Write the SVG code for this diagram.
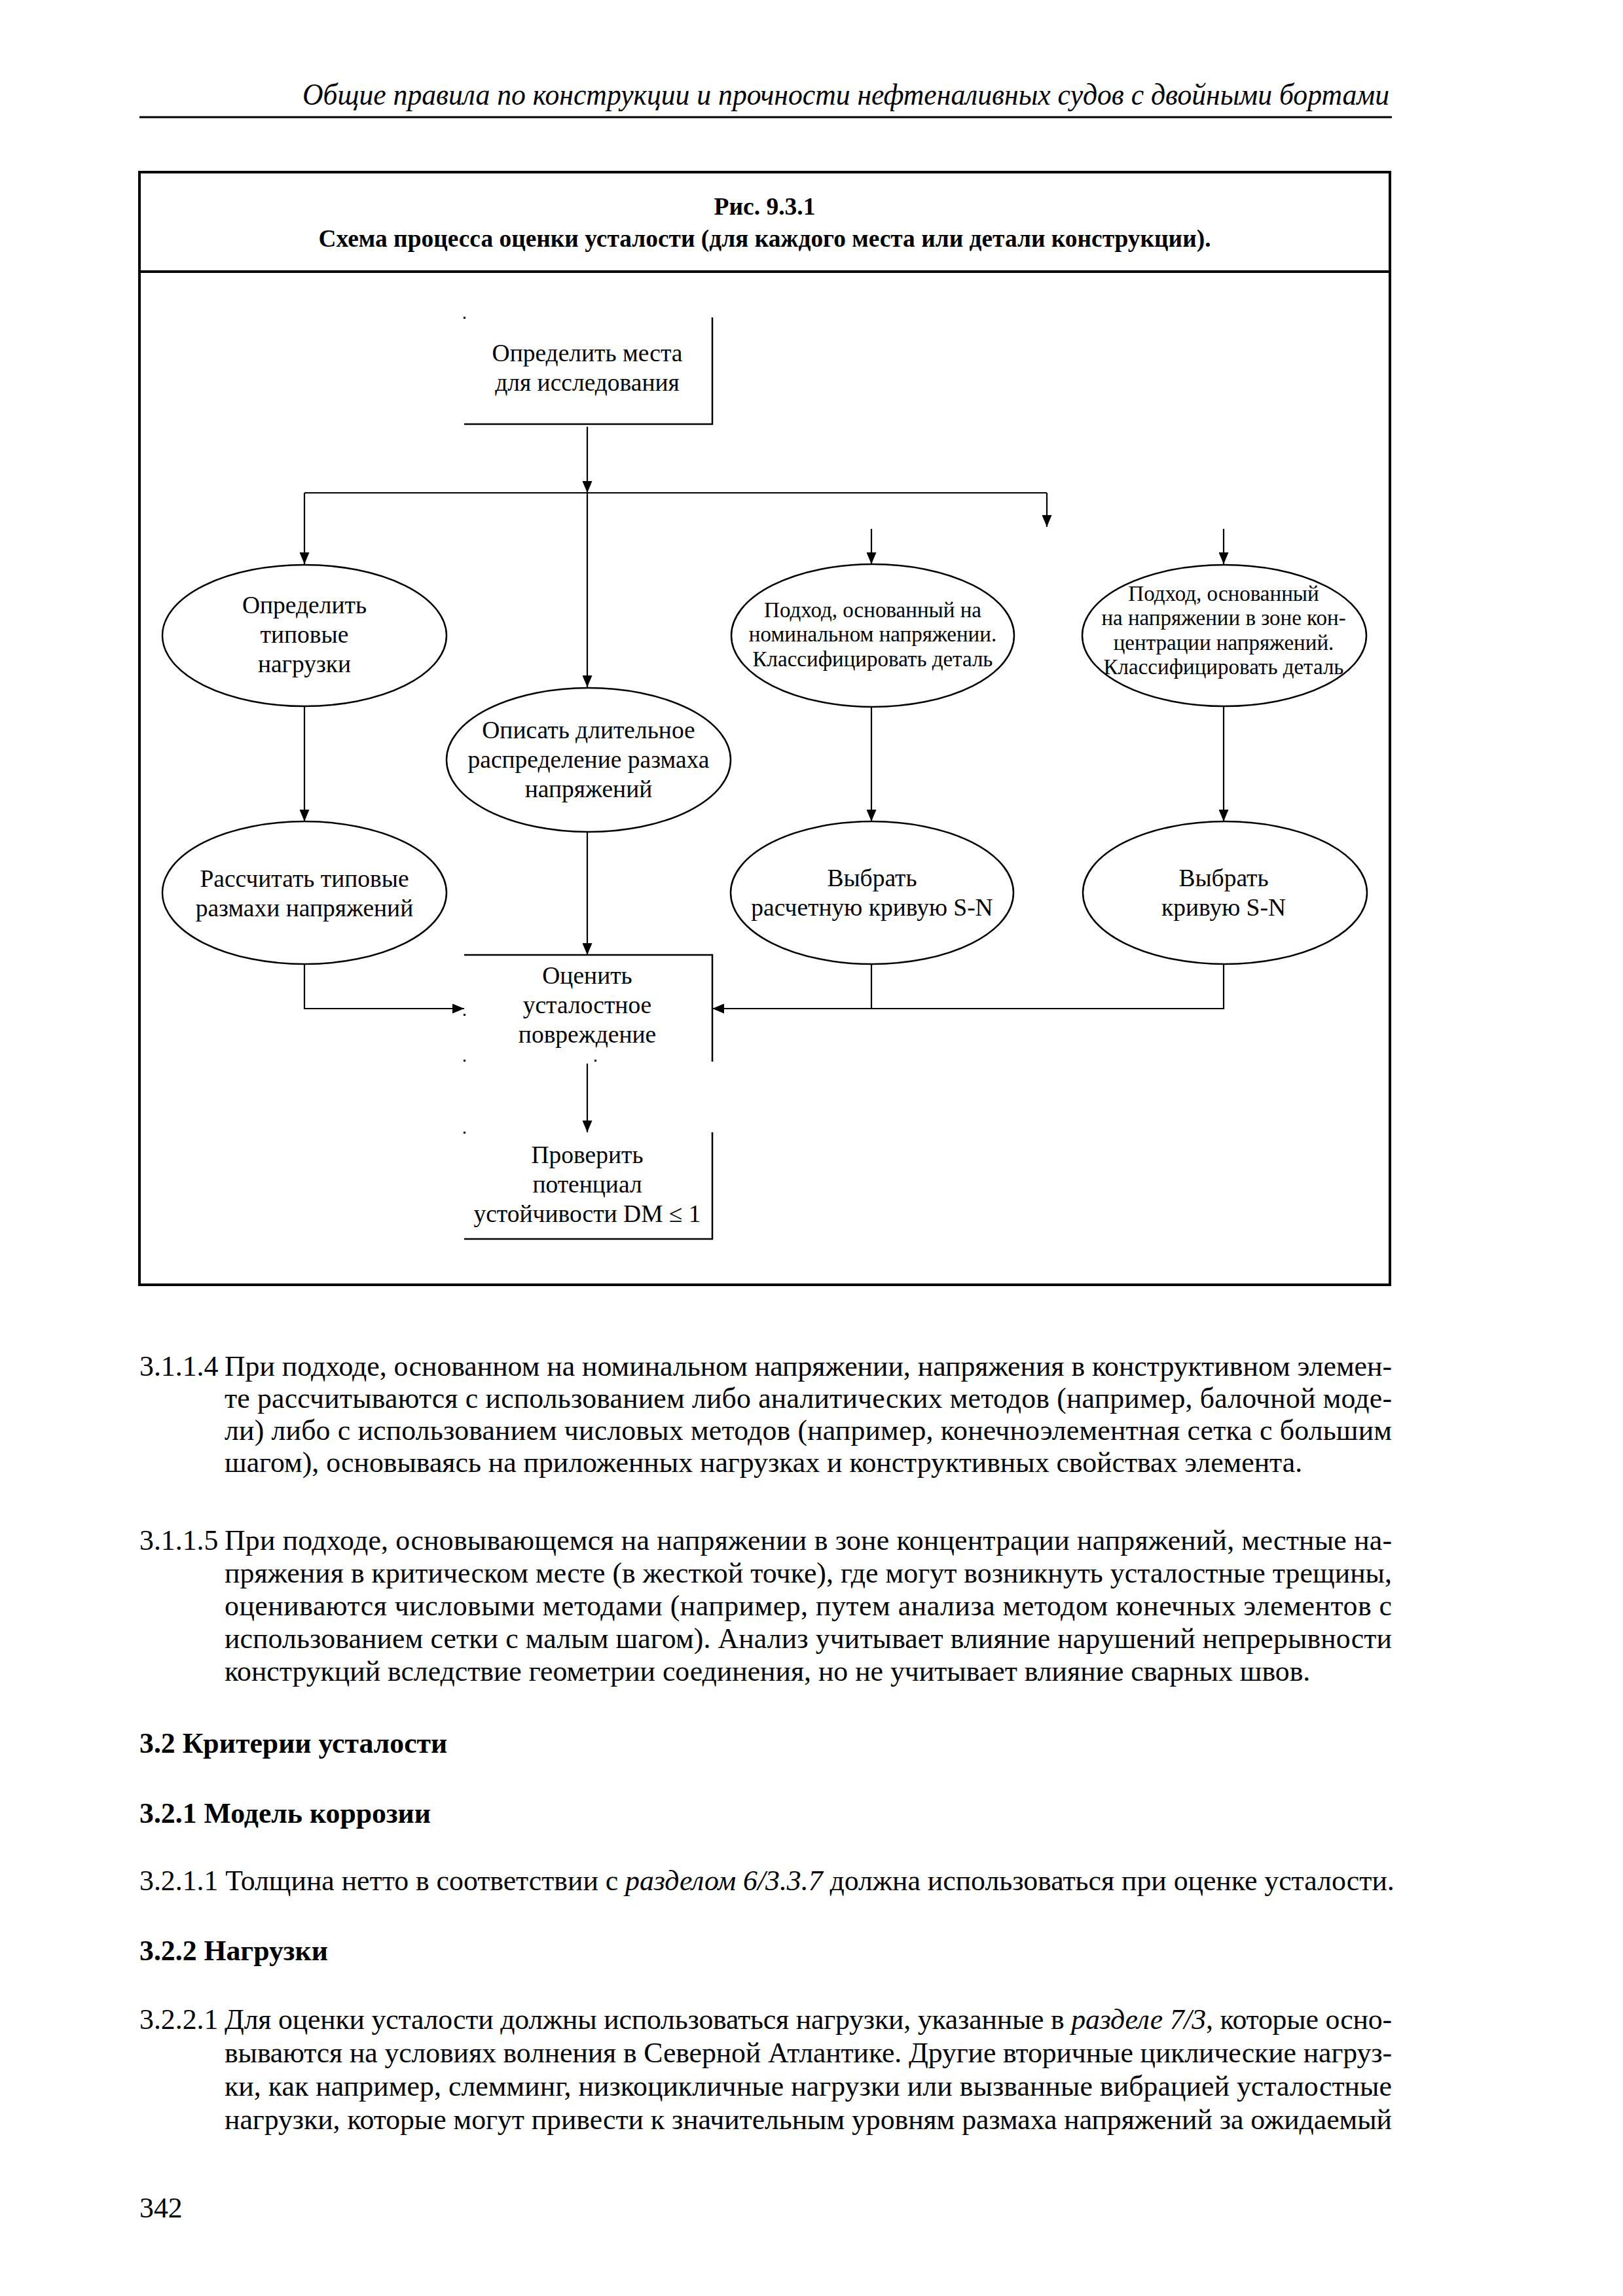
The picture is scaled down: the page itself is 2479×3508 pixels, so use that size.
<svg xmlns="http://www.w3.org/2000/svg" width="2479" height="3508" viewBox="0 0 2479 3508">
<style>
  text { font-family: "Liberation Serif", "Times New Roman", serif; fill: #000; }
  .hdr { font-size: 46px; font-style: italic; }
  .ttl { font-size: 37.5px; font-weight: bold; text-anchor: middle; }
  .lbl { font-size: 37.5px; text-anchor: middle; }
  .sml { font-size: 33px; text-anchor: middle; }
  .body { font-size: 43.75px; }
  .bh { font-size: 43.75px; font-weight: bold; }
  .it { font-style: italic; }
  .shape { fill: #fff; stroke: #000; stroke-width: 2.5; }
  .edge { fill: none; stroke: #000; stroke-width: 2.5; }
  .conn { fill: none; stroke: #000; stroke-width: 2.2; }
  .frame { fill: none; stroke: #000; stroke-width: 4; }
  .dot { fill: #000; }
</style>
<defs>
  <marker id="arr" markerUnits="userSpaceOnUse" markerWidth="18" markerHeight="15" refX="18" refY="7.5" orient="auto">
    <path d="M0,0 L18,7.5 L0,15 z" fill="#000"/>
  </marker>
</defs>
<rect width="2479" height="3508" fill="#fff"/>

<!-- page header -->
<text class="hdr" x="462" y="160" textLength="1660" lengthAdjust="spacingAndGlyphs">Общие правила по конструкции и прочности нефтеналивных судов с двойными бортами</text>
<line x1="213" y1="179" x2="2126" y2="179" stroke="#000" stroke-width="3"/>

<!-- figure frame -->
<g id="frame">
  <rect class="frame" x="213" y="263" width="1910" height="1700"/>
  <line class="frame" x1="213" y1="415" x2="2123" y2="415"/>
  <text class="ttl" x="1168" y="328">Рис. 9.3.1</text>
  <text class="ttl" x="1168" y="377" textLength="1363" lengthAdjust="spacingAndGlyphs">Схема процесса оценки усталости (для каждого места или детали конструкции).</text>
</g>

<!-- connectors -->
<g id="connectors">
  <path class="conn" d="M897,652 V753" marker-end="url(#arr)"/>
  <path class="conn" d="M897,753 V1050" marker-end="url(#arr)"/>
  <path class="conn" d="M465,753 H1599"/>
  <path class="conn" d="M465,753 V862" marker-end="url(#arr)"/>
  <path class="conn" d="M1599,753 V805" marker-end="url(#arr)"/>
  <path class="conn" d="M1331,808 V862" marker-end="url(#arr)"/>
  <path class="conn" d="M1869,808 V862" marker-end="url(#arr)"/>
  <path class="conn" d="M465,1079 V1255" marker-end="url(#arr)"/>
  <path class="conn" d="M1331,1080 V1255" marker-end="url(#arr)"/>
  <path class="conn" d="M1869,1080 V1255" marker-end="url(#arr)"/>
  <path class="conn" d="M897,1270 V1459" marker-end="url(#arr)"/>
  <path class="conn" d="M465,1473 V1541 H709" marker-end="url(#arr)"/>
  <path class="conn" d="M1331,1473 V1541"/>
  <path class="conn" d="M1869,1473 V1541 H1088" marker-end="url(#arr)"/>
  <path class="conn" d="M897,1625 V1730" marker-end="url(#arr)"/>
</g>

<!-- nodes -->
<g id="n-locations">
  <path class="edge" d="M1088,485 V648 H709"/>
  <rect class="dot" x="708" y="484" width="3" height="3"/>
  <text class="lbl" x="897" y="552">Определить места</text>
  <text class="lbl" x="897" y="597">для исследования</text>
</g>

<g id="n-loads">
  <ellipse class="shape" cx="465" cy="971" rx="217" ry="108"/>
  <text class="lbl" x="465" y="937">Определить</text>
  <text class="lbl" x="465" y="982">типовые</text>
  <text class="lbl" x="465" y="1027">нагрузки</text>
</g>

<g id="n-longterm">
  <ellipse class="shape" cx="899" cy="1161" rx="217" ry="110"/>
  <text class="lbl" x="899" y="1128">Описать длительное</text>
  <text class="lbl" x="899" y="1173">распределение размаха</text>
  <text class="lbl" x="899" y="1218">напряжений</text>
</g>

<g id="n-nominal">
  <ellipse class="shape" cx="1333" cy="971" rx="216" ry="109"/>
  <text class="sml" x="1333" y="943">Подход, основанный на</text>
  <text class="sml" x="1333" y="980">номинальном напряжении.</text>
  <text class="sml" x="1333" y="1018">Классифицировать деталь</text>
</g>

<g id="n-hotspot">
  <ellipse class="shape" cx="1870" cy="971" rx="217" ry="108"/>
  <text class="sml" x="1869" y="918">Подход, основанный</text>
  <text class="sml" x="1869" y="955">на напряжении в зоне кон-</text>
  <text class="sml" x="1869" y="993">центрации напряжений.</text>
  <text class="sml" x="1869" y="1030">Классифицировать деталь</text>
</g>

<g id="n-ranges">
  <ellipse class="shape" cx="465" cy="1364" rx="217" ry="109"/>
  <text class="lbl" x="465" y="1355">Рассчитать типовые</text>
  <text class="lbl" x="465" y="1400">размахи напряжений</text>
</g>

<g id="n-sn-design">
  <ellipse class="shape" cx="1332" cy="1364" rx="216" ry="109"/>
  <text class="lbl" x="1332" y="1354">Выбрать</text>
  <text class="lbl" x="1332" y="1399">расчетную кривую S-N</text>
</g>

<g id="n-sn">
  <ellipse class="shape" cx="1871" cy="1364" rx="217" ry="109"/>
  <text class="lbl" x="1869" y="1354">Выбрать</text>
  <text class="lbl" x="1869" y="1399">кривую S-N</text>
</g>

<g id="n-damage">
  <path class="edge" d="M709,1459 H1088 V1622"/>
  <rect class="dot" x="708" y="1549" width="3" height="3"/>
  <rect class="dot" x="708" y="1619" width="3" height="3"/>
  <rect class="dot" x="908" y="1619" width="3" height="3"/>
  <text class="lbl" x="897" y="1503">Оценить</text>
  <text class="lbl" x="897" y="1548">усталостное</text>
  <text class="lbl" x="897" y="1593">повреждение</text>
</g>

<g id="n-check">
  <path class="edge" d="M1088,1730 V1893 H709"/>
  <rect class="dot" x="708" y="1729" width="3" height="3"/>
  <text class="lbl" x="897" y="1777">Проверить</text>
  <text class="lbl" x="897" y="1822">потенциал</text>
  <text class="lbl" x="897" y="1867">устойчивости DM ≤ 1</text>
</g>

<!-- body text -->
<g id="body">
  <text class="body" x="213" y="2102">3.1.1.4</text>
  <text class="body" x="343" y="2102" textLength="1783" lengthAdjust="spacing">При подходе, основанном на номинальном напряжении, напряжения в конструктивном элемен-</text>
  <text class="body" x="343" y="2151" textLength="1783" lengthAdjust="spacing">те рассчитываются с использованием либо аналитических методов (например, балочной моде-</text>
  <text class="body" x="343" y="2200" textLength="1783" lengthAdjust="spacing">ли) либо с использованием числовых методов (например, конечноэлементная сетка с большим</text>
  <text class="body" x="343" y="2249">шагом), основываясь на приложенных нагрузках и конструктивных свойствах элемента.</text>

  <text class="body" x="213" y="2368">3.1.1.5</text>
  <text class="body" x="343" y="2368" textLength="1783" lengthAdjust="spacing">При подходе, основывающемся на напряжении в зоне концентрации напряжений, местные на-</text>
  <text class="body" x="343" y="2418" textLength="1783" lengthAdjust="spacing">пряжения в критическом месте (в жесткой точке), где могут возникнуть усталостные трещины,</text>
  <text class="body" x="343" y="2468" textLength="1783" lengthAdjust="spacing">оцениваются числовыми методами (например, путем анализа методом конечных элементов с</text>
  <text class="body" x="343" y="2518" textLength="1783" lengthAdjust="spacing">использованием сетки с малым шагом). Анализ учитывает влияние нарушений непрерывности</text>
  <text class="body" x="343" y="2568">конструкций вследствие геометрии соединения, но не учитывает влияние сварных швов.</text>

  <text class="bh" x="213" y="2678">3.2 Критерии усталости</text>
  <text class="bh" x="213" y="2785">3.2.1 Модель коррозии</text>
  <text class="body" x="213" y="2888">3.2.1.1 Толщина нетто в соответствии с <tspan class="it">разделом 6/3.3.7</tspan> должна использоваться при оценке усталости.</text>
  <text class="bh" x="213" y="2995">3.2.2 Нагрузки</text>

  <text class="body" x="213" y="3100">3.2.2.1</text>
  <text class="body" x="343" y="3100" textLength="1783" lengthAdjust="spacing">Для оценки усталости должны использоваться нагрузки, указанные в <tspan class="it">разделе 7/3</tspan>, которые осно-</text>
  <text class="body" x="343" y="3151" textLength="1783" lengthAdjust="spacing">вываются на условиях волнения в Северной Атлантике. Другие вторичные циклические нагруз-</text>
  <text class="body" x="343" y="3202" textLength="1783" lengthAdjust="spacing">ки, как например, слемминг, низкоцикличные нагрузки или вызванные вибрацией усталостные</text>
  <text class="body" x="343" y="3253" textLength="1783" lengthAdjust="spacing">нагрузки, которые могут привести к значительным уровням размаха напряжений за ожидаемый</text>

  <text class="body" x="213" y="3388">342</text>
</g>
</svg>
